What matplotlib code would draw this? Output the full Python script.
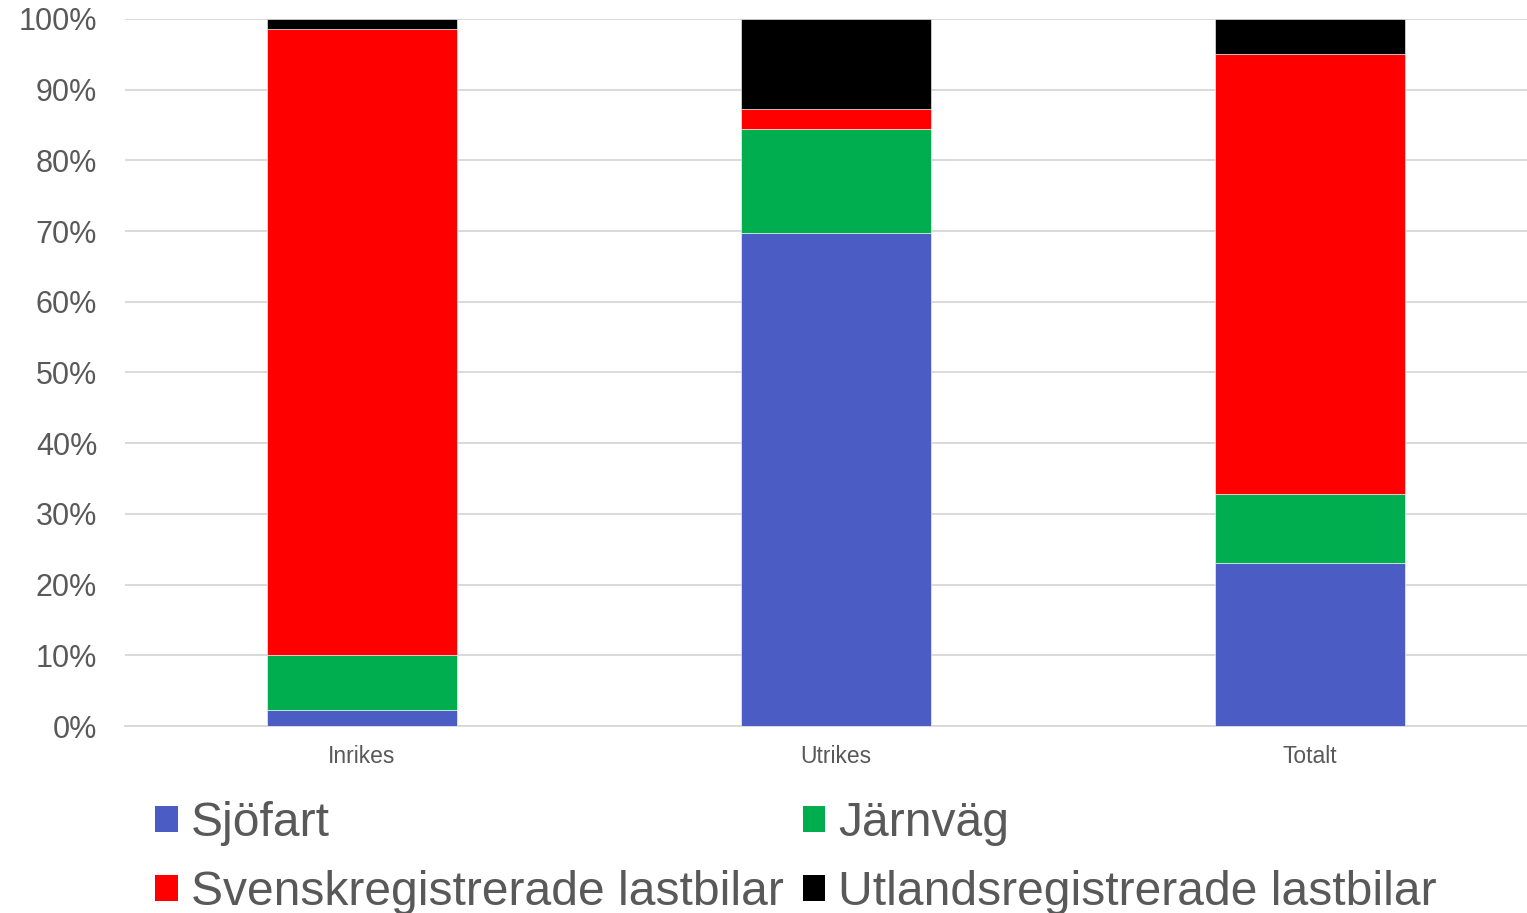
import matplotlib.pyplot as plt
import numpy as np
from matplotlib.patches import Patch
from matplotlib.ticker import PercentFormatter

plt.rcParams['font.family'] = ['Liberation Sans', 'DejaVu Sans']

categories = ["Inrikes", "Utrikes", "Totalt"]
sjofart = [2.3, 69.8, 23.0]
jarnvag = [7.7, 14.6, 9.8]
svensk = [88.6, 2.8, 62.3]
utland = [1.4, 12.8, 4.9]

series = [
    ("Sjöfart", sjofart, "#4B5CC4"),
    ("Järnväg", jarnvag, "#00AD4F"),
    ("Svenskregistrerade lastbilar", svensk, "#FF0000"),
    ("Utlandsregistrerade lastbilar", utland, "#000000"),
]

W, H = 1527, 913
fig = plt.figure(figsize=(W / 100, H / 100), dpi=100)
ax = fig.add_axes([125 / W, 1 - 726 / H, 1422 / W, 707 / H])

x = np.arange(len(categories))
bottom = np.zeros(len(categories))
for name, vals, col in series:
    ax.bar(x, vals, 0.4, bottom=bottom, color=col, edgecolor="white", linewidth=0.4, zorder=3)
    bottom += np.array(vals)

ax.set_xlim(-0.5, 2.5)
ax.set_ylim(0, 100)
ax.set_yticks(np.arange(0, 101, 10))
ax.yaxis.set_major_formatter(PercentFormatter(decimals=0))
ax.set_xticks(x)
ax.set_xticklabels(categories)
ax.tick_params(axis="y", length=0, pad=20, labelsize=22, labelcolor="#595959")
ax.tick_params(axis="x", length=0, pad=13.5, labelsize=16.5, labelcolor="#595959")
ax.grid(axis="y", color="#d9d9d9", linewidth=1.4, zorder=0)
for s in ["top", "right", "left"]:
    ax.spines[s].set_visible(False)
ax.spines["bottom"].set_color("#d9d9d9")
ax.spines["bottom"].set_linewidth(1.4)

order = [0, 2, 1, 3]
handles = [Patch(facecolor=series[i][2], label=series[i][0]) for i in order]
fig.legend(handles=handles, loc="upper left", bbox_to_anchor=(155 / W, 1 - 801 / H),
           ncol=2, frameon=False, fontsize=34.6, labelcolor="#595959",
           handlelength=0.47, handleheight=0.47, handletextpad=0.27,
           columnspacing=0.4, labelspacing=0.5, borderpad=0, borderaxespad=0)

fig.savefig("out.png", dpi=100)
